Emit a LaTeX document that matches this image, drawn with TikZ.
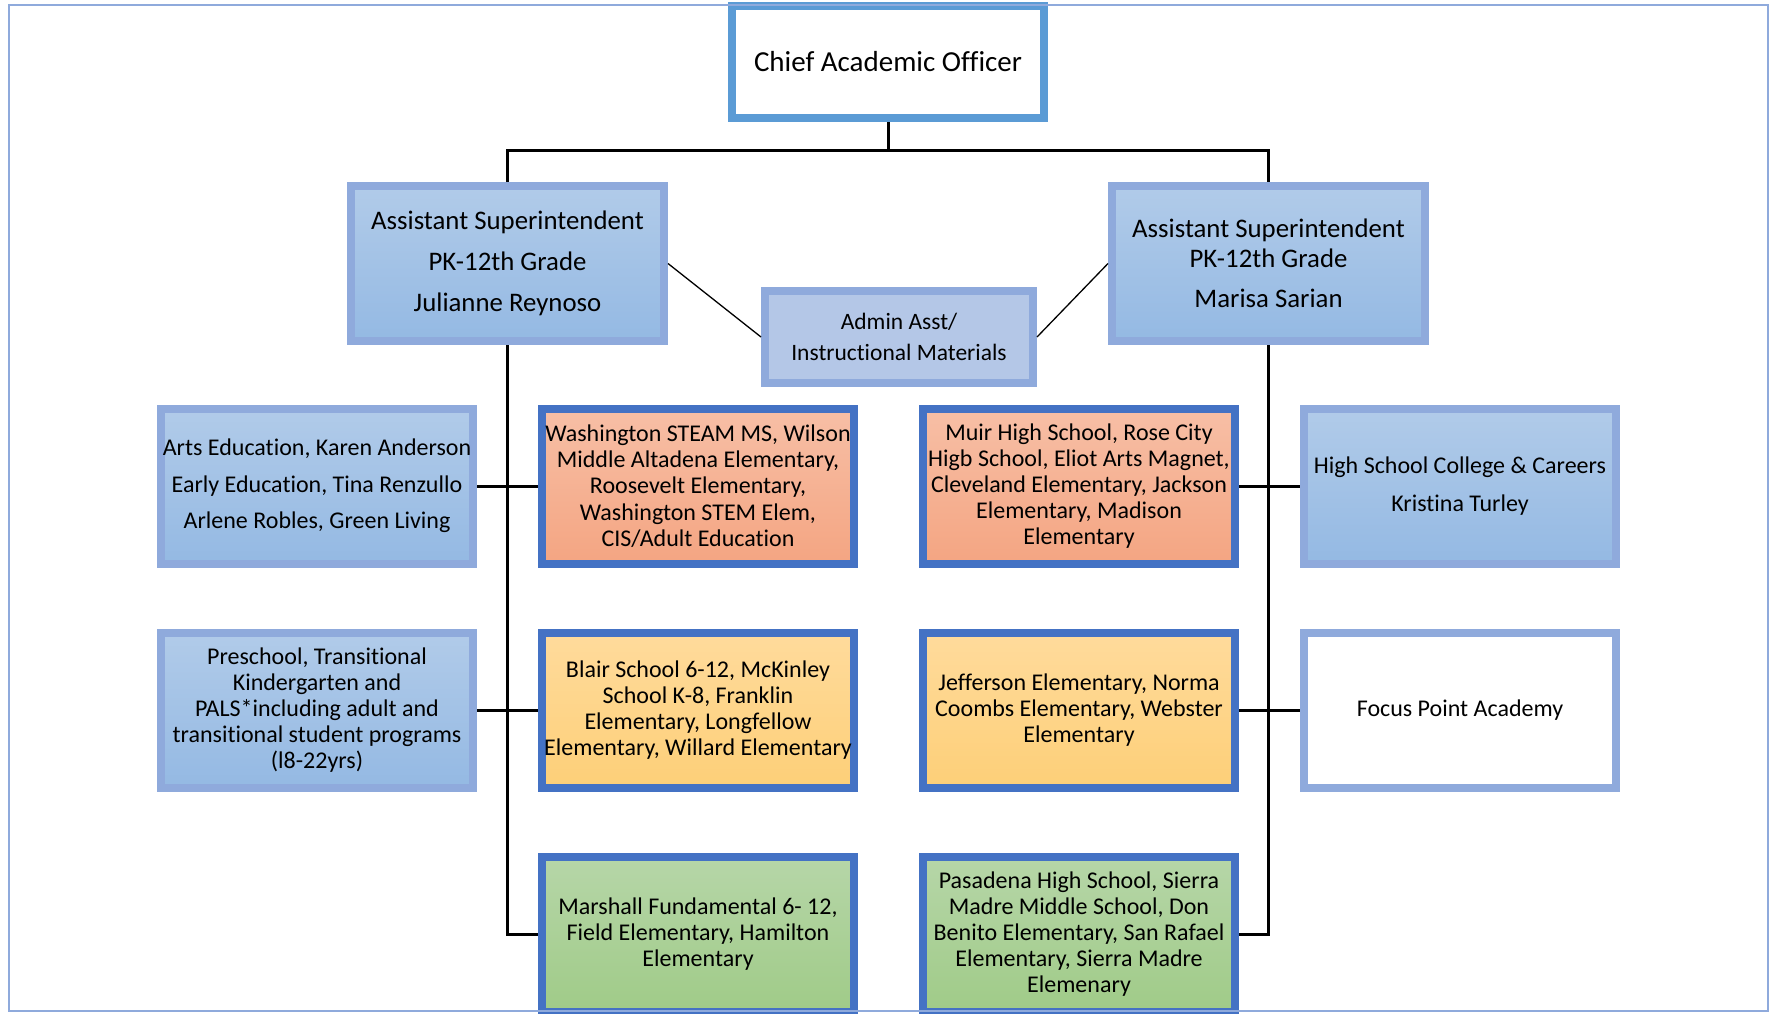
\documentclass[tikz,border=0pt]{standalone}
\usepackage{fontspec}
\setmainfont{Carlito}[Ligatures=NoCommon]
\usetikzlibrary{positioning}
\definecolor{frameblue}{HTML}{8FAADC}
\definecolor{officeblue}{HTML}{5B9BD5}
\definecolor{schoolblue}{HTML}{4472C4}
\definecolor{stafftop}{HTML}{B1CBE9}
\definecolor{staffbot}{HTML}{94B9E3}
\definecolor{adminfill}{HTML}{B4C7E7}
\definecolor{salmontop}{HTML}{F7BFA6}
\definecolor{salmonbot}{HTML}{F4A582}
\definecolor{goldtop}{HTML}{FFDB9C}
\definecolor{goldbot}{HTML}{FDCF78}
\definecolor{greentop}{HTML}{B6D6A8}
\definecolor{greenbot}{HTML}{A0CB88}

\begin{document}
\begin{tikzpicture}[
  x=1pt, y=1pt,
  node distance=61pt,
  box/.style={draw, line width=8pt, minimum width=312pt, minimum height=155pt, align=center, inner sep=1pt, font=\fontsize{24}{26.2}\selectfont},
  staff/.style={box, draw=frameblue, top color=stafftop, bottom color=staffbot},
  school/.style={box, draw=schoolblue},
  salmon/.style={school, top color=salmontop, bottom color=salmonbot},
  gold/.style={school, top color=goldtop, bottom color=goldbot},
  green/.style={school, top color=greentop, bottom color=greenbot},
  trunk/.style={draw, line width=3pt, black},
  link/.style={draw, line width=1.3pt, black},
]
  \useasboundingbox (0,0) rectangle (1771,-1013);
  \clip (0,0) rectangle (1771,-1013);

  % top of the chart
  \node[box, draw=officeblue, fill=white, minimum height=112pt, font=\fontsize{29}{32}\selectfont] (cao) at (888,-62) {Chief Academic Officer};

  \node[staff, minimum width=313pt, font=\fontsize{26.8}{40.7}\selectfont] (asl) at (507.5,-263.5) {
    Assistant Superintendent\\
    PK-12th Grade\\
    Julianne Reynoso
  };
  \node[staff, minimum width=313pt, font=\fontsize{26.8}{29.4}\selectfont] (asr) at (1268.5,-263.5) {
    Assistant Superintendent\\
    PK-12th Grade\\[11.3pt]
    Marisa Sarian
  };

  \node[box, draw=frameblue, fill=adminfill, minimum width=268pt, minimum height=92pt, font=\fontsize{23.5}{31.6}\selectfont] (admin) at (899,-337) {
    Admin Asst/\\
    Instructional Materials
  };

  % first row
  \node[staff, font=\fontsize{24}{36.7}\selectfont] (arts) at (317,-486) {
    Arts Education, Karen Anderson\\
    Early Education, Tina Renzullo\\
    Arlene Robles, Green Living
  };
  \node[salmon, right=of arts] (wash) {
    Washington STEAM MS, Wilson\\
    Middle Altadena Elementary,\\
    Roosevelt Elementary,\\
    Washington STEM Elem,\\
    CIS/Adult Education
  };
  \node[salmon, right=of wash] (muir) {
    Muir High School, Rose City\\
    Higb School, Eliot Arts Magnet,\\
    Cleveland Elementary, Jackson\\
    Elementary, Madison\\
    Elementary
  };
  \node[staff, right=of muir, font=\fontsize{24}{37.3}\selectfont] (hsc) {
    High School College \& Careers\\
    Kristina Turley
  };

  % second row
  \node[staff, below=of arts] (pre) {
    Preschool, Transitional\\
    Kindergarten and\\
    PALS*including adult and\\
    transitional student programs\\
    (l8-22yrs)
  };
  \node[gold, below=of wash] (blair) {
    Blair School 6-12, McKinley\\
    School K-8, Franklin\\
    Elementary, Longfellow\\
    Elementary, Willard Elementary
  };
  \node[gold, below=of muir] (jeff) {
    Jefferson Elementary, Norma\\
    Coombs Elementary, Webster\\
    Elementary
  };
  \node[box, draw=frameblue, fill=white, below=of hsc] (focus) {Focus Point Academy};

  % third row
  \node[green, below=of blair] (marshall) {
    Marshall Fundamental 6- 12,\\
    Field Elementary, Hamilton\\
    Elementary
  };
  \node[green, below=of jeff] (pasadena) {
    Pasadena High School, Sierra\\
    Madre Middle School, Don\\
    Benito Elementary, San Rafael\\
    Elementary, Sierra Madre\\
    Elemenary
  };

  % connectors
  \coordinate[below=28pt of cao.south] (split);
  \draw[trunk] (cao.south) -- (split);
  \draw[trunk] (asl.north) |- (split) -| (asr.north);
  \draw[link] (asl.east) -- (admin.west);
  \draw[link] (admin.east) -- (asr.west);
  \draw[trunk] (asl.south) |- (marshall.west);
  \draw[trunk] (asr.south) |- (pasadena.east);
  \draw[trunk] (arts.east) -- (wash.west);
  \draw[trunk] (pre.east) -- (blair.west);
  \draw[trunk] (muir.east) -- (hsc.west);
  \draw[trunk] (jeff.east) -- (focus.west);

  % page frame
  \draw[frameblue, line width=2pt] (9,-5) rectangle (1768,-1011);
\end{tikzpicture}
\end{document}
